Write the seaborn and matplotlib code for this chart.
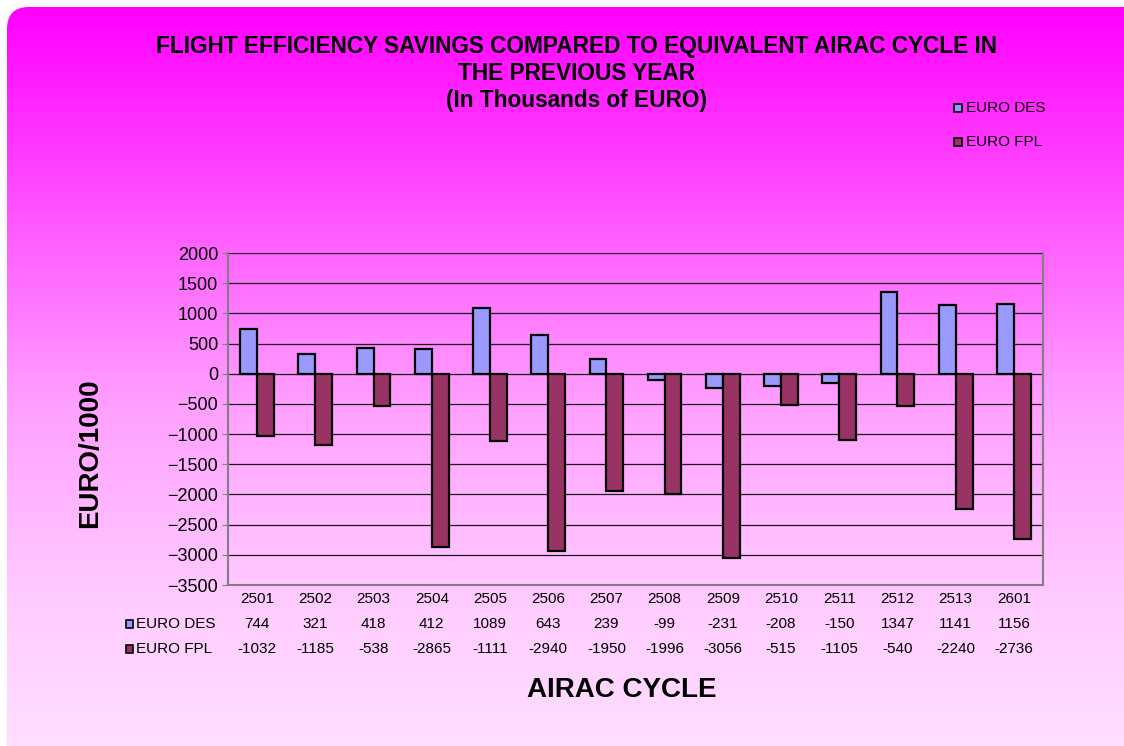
import numpy as np
import pandas as pd
import seaborn as sns
import matplotlib.pyplot as plt
from matplotlib.patches import FancyBboxPatch, Rectangle
from matplotlib.colors import LinearSegmentedColormap
import matplotlib.transforms as mtransforms

# data
cycles = ["2501", "2502", "2503", "2504", "2505", "2506", "2507",
          "2508", "2509", "2510", "2511", "2512", "2513", "2601"]
euro_des = [744, 321, 418, 412, 1089, 643, 239, -99, -231, -208, -150, 1347, 1141, 1156]
euro_fpl = [-1032, -1185, -538, -2865, -1111, -2940, -1950, -1996, -3056, -515, -1105, -540, -2240, -2736]
series_names = ["EURO DES", "EURO FPL"]
series_colors = ["#9999FF", "#993366"]

df = pd.DataFrame({
    "cycle": cycles * 2,
    "value": euro_des + euro_fpl,
    "series": [series_names[0]] * len(cycles) + [series_names[1]] * len(cycles),
})

sns.set_style("white")
plt.rcParams["font.family"] = ["Liberation Sans", "DejaVu Sans"]
plt.rcParams["text.color"] = "black"
plt.rcParams["ytick.color"] = "black"
plt.rcParams["xtick.color"] = "black"

W, H = 1124, 746
fig = plt.figure(figsize=(W / 100, H / 100), dpi=100)
fig.patch.set_facecolor("white")

# gradient background panel with rounded corner
bg = fig.add_axes([0, 0, 1, 1], zorder=0)
bg.set_xlim(0, W)
bg.set_ylim(H, 0)
bg.axis("off")
grad_cmap = LinearSegmentedColormap.from_list(
    "pinkgrad",
    [(0.0, "#FF00FF"), (0.28, "#FF55FF"), (0.54, "#FFA0FF"), (0.81, "#FFCCFF"), (1.0, "#FFDEFF")],
)
grad = np.linspace(0, 1, 400).reshape(-1, 1)
im = bg.imshow(grad, cmap=grad_cmap, aspect="auto", extent=(7, W, 746, 7), interpolation="bilinear")
panel = FancyBboxPatch((7, 7), W + 40, H + 40, boxstyle="round,pad=0,rounding_size=22",
                       transform=bg.transData, facecolor="none", edgecolor="none")
bg.add_patch(panel)
im.set_clip_path(panel)

# main axes
ax = fig.add_axes([228 / W, 1 - 585 / H, (1043 - 228) / W, (585 - 253) / H], zorder=1)
ax.patch.set_alpha(0)
sns.barplot(data=df, x="cycle", y="value", hue="series", palette=series_colors, saturation=1,
            width=0.58, edgecolor="black", linewidth=1.6, ax=ax, zorder=3, legend=False)

ax.set_ylim(-3500, 2000)
ax.set_xlim(-0.5, len(cycles) - 0.5)
ax.set_yticks(np.arange(-3500, 2001, 500))
ax.tick_params(axis="y", labelsize=13, length=4, color="#808080", labelcolor="black",
               direction="out", left=True, pad=3)
ax.tick_params(axis="x", bottom=False, labelbottom=False)
ax.yaxis.grid(True, color="#1a1a1a", linewidth=0.9)
ax.set_axisbelow(True)
for side in ["top", "right", "left", "bottom"]:
    ax.spines[side].set_color("#808080")
    ax.spines[side].set_linewidth(1.5)
ax.spines["top"].set_visible(False)
ax.set_xlabel("")
ax.set_ylabel("")

# data table below the axis
trans = mtransforms.blended_transform_factory(ax.transData, fig.transFigure)
for i, c in enumerate(cycles):
    ax.text(i, 1 - 599 / H, c, transform=trans, ha="center", va="center", fontsize=11)
    ax.text(i, 1 - 624 / H, str(euro_des[i]), transform=trans, ha="center", va="center", fontsize=11)
    ax.text(i, 1 - 649 / H, str(euro_fpl[i]), transform=trans, ha="center", va="center", fontsize=11)

for name, color, ypix in zip(series_names, series_colors, [624, 649]):
    fig.patches.append(Rectangle((126 / W, 1 - (ypix + 4) / H), 7 / W, 8 / H, transform=fig.transFigure,
                                 facecolor=color, edgecolor="black", linewidth=1.2, zorder=3))
    fig.text(136 / W, 1 - ypix / H, name, ha="left", va="center", fontsize=11)

# legend top right
for name, color, ypix in zip(series_names, series_colors, [108, 142]):
    fig.patches.append(Rectangle((954 / W, 1 - (ypix + 4) / H), 8 / W, 8 / H, transform=fig.transFigure,
                                 facecolor=color, edgecolor="black", linewidth=1.2, zorder=3))
    fig.text(966 / W, 1 - ypix / H, name, ha="left", va="center", fontsize=11)

# titles and axis labels
fig.text(577 / W, 1 - 47 / H, "FLIGHT EFFICIENCY SAVINGS COMPARED TO EQUIVALENT AIRAC CYCLE IN",
         ha="center", va="center", fontsize=16.3, fontweight="bold")
fig.text(577 / W, 1 - 73 / H, "THE PREVIOUS YEAR", ha="center", va="center", fontsize=16.3, fontweight="bold")
fig.text(577 / W, 1 - 100 / H, "(In Thousands of EURO)", ha="center", va="center", fontsize=16.3, fontweight="bold")
fig.text(90 / W, 1 - 453 / H, "EURO/1000", ha="center", va="center", rotation=90, fontsize=20, fontweight="bold")
fig.text(622 / W, 1 - 690 / H, "AIRAC CYCLE", ha="center", va="center", fontsize=20, fontweight="bold")

fig.savefig("out.png", dpi=100)
